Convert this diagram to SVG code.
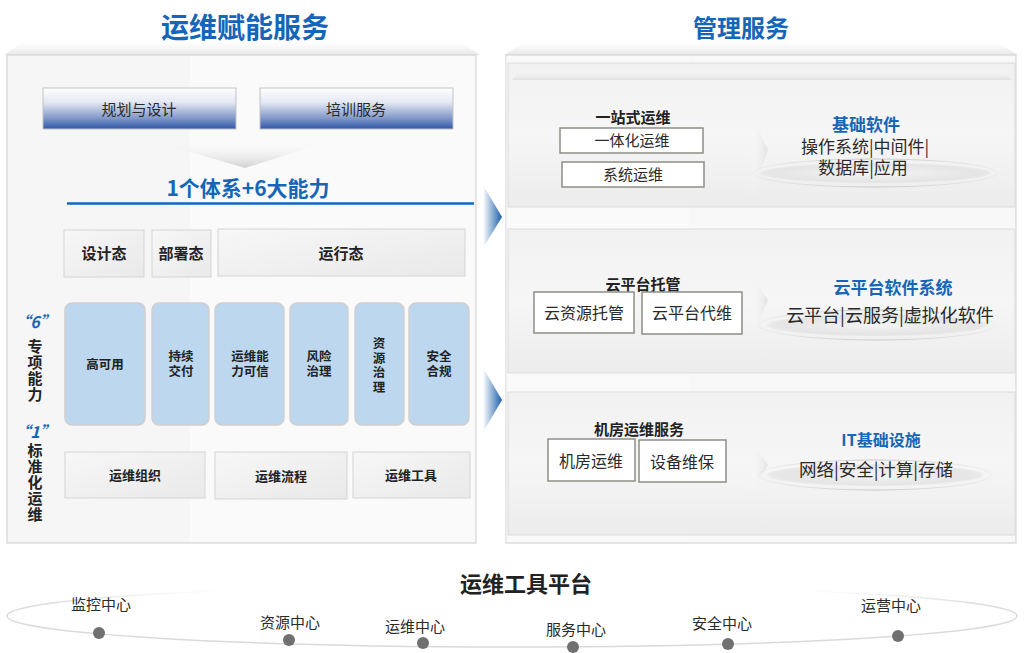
<svg xmlns="http://www.w3.org/2000/svg" width="1024" height="653" viewBox="0 0 1024 653">
<defs>
<style>
.title{font-family:"Noto Sans CJK SC",sans-serif;font-weight:700;fill:#1565b8;text-anchor:middle;}
.blk{font-family:"Noto Sans CJK SC",sans-serif;font-weight:700;fill:#222;text-anchor:middle;}
.reg{font-family:"Noto Sans CJK SC",sans-serif;font-weight:400;fill:#2a2a2a;text-anchor:middle;}
.vert{font-family:"Noto Sans CJK SC",sans-serif;font-weight:700;fill:#222;writing-mode:vertical-rl;text-orientation:upright;}
.cap{fill:#bdd7ee;stroke:#cfcfcf;stroke-width:1.5;}
.state{fill:url(#gState);stroke:#d4d4d4;stroke-width:1;}
.wbox{fill:#fff;stroke:#8e8e86;stroke-width:1.5;}
.sec{fill:url(#gSec);stroke:#dcdcdc;stroke-width:1;}
.dot{fill:#707070;}
</style>
<linearGradient id="gBlue" x1="0" y1="0" x2="0" y2="1">
<stop offset="0" stop-color="#ffffff"/>
<stop offset="0.35" stop-color="#e4e8f2"/>
<stop offset="0.75" stop-color="#7d95c8"/>
<stop offset="1" stop-color="#2f57a8"/>
</linearGradient>
<linearGradient id="gState" x1="0" y1="0" x2="1" y2="1">
<stop offset="0" stop-color="#f7f7f7"/>
<stop offset="1" stop-color="#e9e9e9"/>
</linearGradient>
<linearGradient id="gSec" x1="0" y1="0" x2="0" y2="1">
<stop offset="0" stop-color="#f1f1f1"/>
<stop offset="0.5" stop-color="#f6f6f6"/>
<stop offset="1" stop-color="#ececec"/>
</linearGradient>
<linearGradient id="gArrow" x1="0" y1="0" x2="1" y2="0">
<stop offset="0" stop-color="#ffffff"/>
<stop offset="1" stop-color="#1b5ea8"/>
</linearGradient>
<linearGradient id="gTrap" x1="0" y1="0" x2="0" y2="1">
<stop offset="0" stop-color="#ffffff" stop-opacity="0"/>
<stop offset="1" stop-color="#e6e6e6"/>
</linearGradient>
<linearGradient id="gTrap2" x1="0" y1="0" x2="0" y2="1">
<stop offset="0" stop-color="#ffffff" stop-opacity="0"/>
<stop offset="1" stop-color="#e2e2e2"/>
</linearGradient>
<linearGradient id="gFunnel" x1="0" y1="0" x2="0" y2="1">
<stop offset="0" stop-color="#ffffff" stop-opacity="0"/>
<stop offset="1" stop-color="#d0d0d0"/>
</linearGradient>
<linearGradient id="gChev" x1="0" y1="0" x2="1" y2="0">
<stop offset="0" stop-color="#ffffff" stop-opacity="0"/>
<stop offset="1" stop-color="#dcdcdc"/>
</linearGradient>
<radialGradient id="gHalo" cx="0.5" cy="0.5" r="0.5">
<stop offset="0" stop-color="#f4f4f4"/>
<stop offset="0.8" stop-color="#e6e6e6"/>
<stop offset="1" stop-color="#d8d8d8" stop-opacity="0.3"/>
</radialGradient>
<linearGradient id="gRing" x1="0" y1="0" x2="1" y2="0">
<stop offset="0" stop-color="#d0d0d0" stop-opacity="0.2"/>
<stop offset="0.5" stop-color="#c8c8c8"/>
<stop offset="1" stop-color="#d0d0d0" stop-opacity="0.2"/>
</linearGradient>
<linearGradient id="gBack" gradientUnits="userSpaceOnUse" x1="7" y1="0" x2="1017" y2="0">
<stop offset="0" stop-color="#d6d6d6"/>
<stop offset="0.12" stop-color="#e4e4e4" stop-opacity="0.6"/>
<stop offset="0.25" stop-color="#ffffff" stop-opacity="0"/>
<stop offset="0.75" stop-color="#ffffff" stop-opacity="0"/>
<stop offset="0.88" stop-color="#e4e4e4" stop-opacity="0.6"/>
<stop offset="1" stop-color="#d6d6d6"/>
</linearGradient>
</defs>

<rect width="1024" height="653" fill="#ffffff"/>

<!-- top trapezoids -->
<polygon points="28,38 455,38 480,55 4,55" fill="url(#gTrap)"/>
<polygon points="530,38 990,38 1018,55 504,55" fill="url(#gTrap)"/>

<!-- titles -->
<text class="title" x="245" y="38" font-size="28">运维赋能服务</text>
<text class="title" x="741" y="37" font-size="24">管理服务</text>

<!-- LEFT PANEL -->
<g id="left-panel">
<rect x="7" y="55" width="469" height="488" fill="#f6f6f6" stroke="#d6d6d6" stroke-width="1.2"/>
<rect x="190" y="56" width="285" height="486" fill="#ffffff" opacity="0.45"/>
</g>

<g id="node-planning">
<rect x="43" y="88" width="193" height="41" fill="url(#gBlue)" stroke="#c2c2c2" stroke-width="1"/>
<text class="reg" x="139" y="115" font-size="15">规划与设计</text>
</g>
<g id="node-training">
<rect x="260" y="88" width="193" height="41" fill="url(#gBlue)" stroke="#c2c2c2" stroke-width="1"/>
<text class="reg" x="356" y="115" font-size="15">培训服务</text>
</g>

<polygon points="150,140 333,140 245,168" fill="url(#gFunnel)"/>

<g id="heading-system">
<text class="title" x="248" y="196" font-size="21">1个体系+6大能力</text>
<line x1="67" y1="203.5" x2="474" y2="203.5" stroke="#1565c0" stroke-width="2.5"/>
</g>

<g id="node-design-state">
<rect class="state" x="64" y="230" width="80" height="47"/>
<text class="blk" x="104" y="259" font-size="15">设计态</text>
</g>
<g id="node-deploy-state">
<rect class="state" x="152" y="230" width="59" height="47"/>
<text class="blk" x="181" y="259" font-size="15">部署态</text>
</g>
<g id="node-run-state">
<rect class="state" x="218" y="229" width="247" height="47"/>
<text class="blk" x="341" y="259" font-size="15">运行态</text>
</g>

<g id="cap-ha">
<rect class="cap" x="65" y="303" width="80" height="122" rx="7"/>
<text class="blk" x="105" y="369" font-size="12.5">高可用</text>
</g>
<g id="cap-cd">
<rect class="cap" x="152" y="303" width="57" height="122" rx="7"/>
<text class="blk" x="181" y="361" font-size="12.5"><tspan x="181">持续</tspan><tspan x="181" dy="15">交付</tspan></text>
</g>
<g id="cap-trust">
<rect class="cap" x="215" y="303" width="69" height="122" rx="7"/>
<text class="blk" x="250" y="361" font-size="12.5"><tspan x="250">运维能</tspan><tspan x="250" dy="15">力可信</tspan></text>
</g>
<g id="cap-risk">
<rect class="cap" x="290" y="303" width="58" height="122" rx="7"/>
<text class="blk" x="319" y="361" font-size="12.5"><tspan x="319">风险</tspan><tspan x="319" dy="15">治理</tspan></text>
</g>
<g id="cap-resource">
<rect class="cap" x="355" y="303" width="49" height="122" rx="7"/>
<text class="vert" x="379" y="337" font-size="12.5" letter-spacing="2">资源治理</text>
</g>
<g id="cap-security">
<rect class="cap" x="409" y="303" width="60" height="122" rx="7"/>
<text class="blk" x="439" y="361" font-size="12.5"><tspan x="439">安全</tspan><tspan x="439" dy="15">合规</tspan></text>
</g>

<g id="node-org">
<rect class="state" x="65" y="452" width="140" height="46"/>
<text class="blk" x="135" y="480" font-size="13">运维组织</text>
</g>
<g id="node-process">
<rect class="state" x="215" y="452" width="132" height="47"/>
<text class="blk" x="281" y="481" font-size="13">运维流程</text>
</g>
<g id="node-tools">
<rect class="state" x="353" y="452" width="117" height="46"/>
<text class="blk" x="411" y="480" font-size="13">运维工具</text>
</g>

<g id="side-labels">
<text class="title" x="35" y="328" font-size="16" font-style="italic">“6”</text>
<text class="vert" x="35" y="339" font-size="15" letter-spacing="1">专项能力</text>
<text class="title" x="35" y="438" font-size="16" font-style="italic">“1”</text>
<text class="vert" x="35" y="443" font-size="15" letter-spacing="1">标准化运维</text>
</g>

<!-- connectors (arrows between panels) -->
<g id="connectors">
<polygon points="483,185 502,217 483,248" fill="url(#gArrow)"/>
<polygon points="483,368 502,400 483,432" fill="url(#gArrow)"/>
</g>

<!-- RIGHT PANEL -->
<g id="right-panel">
<rect x="506" y="55" width="510" height="488" fill="#f8f8f8" stroke="#d6d6d6" stroke-width="1.2"/>
<rect x="506" y="56" width="183" height="486" fill="#ffffff" opacity="0.35"/>
</g>

<g id="section-basic-software">
<rect class="sec" x="508" y="63" width="507" height="144"/>
<polygon points="520,68 1000,68 1012,80 512,80" fill="url(#gTrap2)"/>
<polygon points="750,112 768,150 750,200" fill="url(#gChev)" opacity="0.8"/>
<ellipse cx="875" cy="173" rx="115" ry="10" fill="url(#gHalo)"/>
<ellipse cx="875" cy="173" rx="122" ry="14" fill="none" stroke="url(#gRing)" stroke-width="1"/>
<text class="blk" x="633" y="123" font-size="15">一站式运维</text>
<rect class="wbox" x="560" y="128" width="143" height="25"/>
<text class="reg" x="632" y="146" font-size="15">一体化运维</text>
<rect class="wbox" x="562" y="162" width="142" height="25"/>
<text class="reg" x="633" y="180" font-size="15">系统运维</text>
<text class="title" x="866" y="131" font-size="17">基础软件</text>
<text class="reg" x="865" y="153" font-size="17"><tspan x="865">操作系统|中间件|</tspan><tspan x="863" dy="21">数据库|应用</tspan></text>
</g>

<g id="section-cloud">
<rect class="sec" x="508" y="229" width="507" height="144"/>
<polygon points="750,275 768,300 750,340" fill="url(#gChev)" opacity="0.8"/>
<ellipse cx="877" cy="325" rx="110" ry="11" fill="url(#gHalo)"/>
<ellipse cx="877" cy="325" rx="118" ry="15" fill="none" stroke="url(#gRing)" stroke-width="1"/>
<text class="blk" x="643" y="290" font-size="15">云平台托管</text>
<rect class="wbox" x="534" y="292" width="100" height="41"/>
<text class="reg" x="584" y="319" font-size="16">云资源托管</text>
<rect class="wbox" x="642" y="292" width="100" height="42"/>
<text class="reg" x="692" y="319" font-size="16">云平台代维</text>
<text class="title" x="893" y="294" font-size="17">云平台软件系统</text>
<text class="reg" x="890" y="322" font-size="18">云平台|云服务|虚拟化软件</text>
</g>

<g id="section-it-infra">
<rect class="sec" x="508" y="392" width="507" height="143"/>
<polygon points="750,440 768,465 750,495" fill="url(#gChev)" opacity="0.8"/>
<ellipse cx="875" cy="475" rx="108" ry="11" fill="url(#gHalo)"/>
<ellipse cx="875" cy="475" rx="116" ry="15" fill="none" stroke="url(#gRing)" stroke-width="1"/>
<text class="blk" x="639" y="435" font-size="15">机房运维服务</text>
<rect class="wbox" x="548" y="439" width="87" height="42"/>
<text class="reg" x="591" y="467" font-size="16">机房运维</text>
<rect class="wbox" x="639" y="440" width="87" height="42"/>
<text class="reg" x="682" y="468" font-size="16">设备维保</text>
<text class="title" x="881" y="446" font-size="16">IT基础设施</text>
<text class="reg" x="876" y="476" font-size="17.5">网络|安全|计算|存储</text>
</g>

<!-- BOTTOM TOOL PLATFORM -->
<g id="tool-platform">
<path d="M7,616 A505,31 0 0 0 1017,616" fill="none" stroke="#dadada" stroke-width="1.5"/>
<path d="M7,616 A505,31 0 0 1 1017,616" fill="none" stroke="url(#gBack)" stroke-width="1.5"/>
<text class="blk" x="526" y="592" font-size="22" fill="#333">运维工具平台</text>
</g>
<g id="center-monitor">
<circle class="dot" cx="99" cy="633" r="6"/>
<text class="reg" x="101" y="610" font-size="15">监控中心</text>
</g>
<g id="center-resource">
<circle class="dot" cx="289" cy="640" r="6"/>
<text class="reg" x="290" y="628" font-size="15">资源中心</text>
</g>
<g id="center-ops">
<circle class="dot" cx="423" cy="643" r="6"/>
<text class="reg" x="415" y="632" font-size="15">运维中心</text>
</g>
<g id="center-service">
<circle class="dot" cx="573" cy="647" r="6"/>
<text class="reg" x="576" y="635" font-size="15">服务中心</text>
</g>
<g id="center-security">
<circle class="dot" cx="728" cy="644" r="6"/>
<text class="reg" x="722" y="629" font-size="15">安全中心</text>
</g>
<g id="center-operation">
<circle class="dot" cx="898" cy="636" r="6"/>
<text class="reg" x="891" y="611" font-size="15">运营中心</text>
</g>
</svg>
